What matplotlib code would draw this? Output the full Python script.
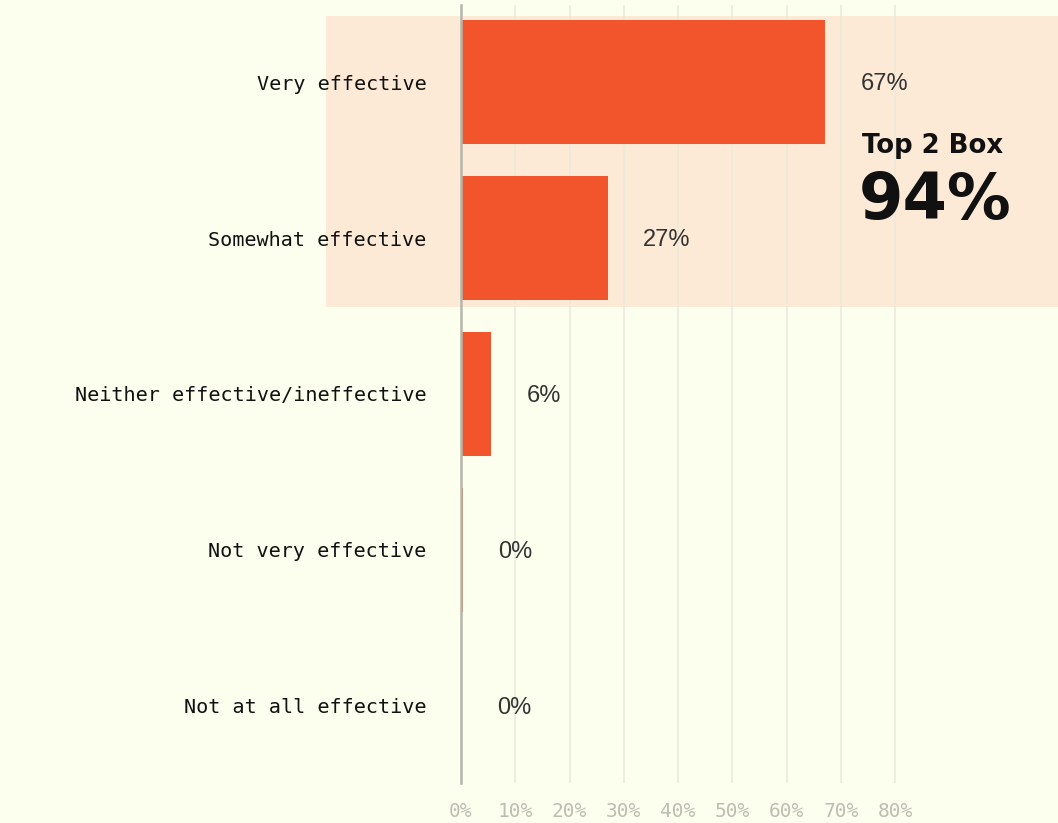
#!/usr/bin/env python3

# effectiveness bar chart, top 2 box highlight

import matplotlib
matplotlib.use("Agg")
import matplotlib.pyplot as plt
from matplotlib.patches import Rectangle

categories = ["Very effective", "Somewhat effective", "Neither effective/ineffective",
              "Not very effective", "Not at all effective"]
values = [67, 27, 5.6, 0.3, 0]
value_labels = ["67%", "27%", "6%", "0%", "0%"]
ticks = [0, 10, 20, 30, 40, 50, 60, 70, 80]
tick_labels = ["0%", "10%", "20%", "30%", "40%", "50%", "60%", "70%", "80%"]
top2_title = "Top 2 Box"
top2_value = "94%"

BG = "#fcfeee"
HILITE = "#fce9d6"
BAR = "#f2552c"


def main():
	fig = plt.figure(figsize=(10.58, 8.23), dpi=100, facecolor=BG)
	ax = fig.add_axes([461 / 1058, 40 / 823, 597 / 1058, 778 / 823])
	ax.set_facecolor(BG)

	y = list(range(len(categories)))
	ax.barh(y, values, height=0.8, color=BAR, zorder=2)

	# peach box behind the top two answers, runs into the label area
	ax.add_patch(Rectangle((-24.9, -0.423), 140, 1.865, facecolor=HILITE,
		edgecolor="none", zorder=0.2, clip_on=False))

	for i, v in enumerate(values):
		ax.text(v + 6.6, i + 0.01, value_labels[i], ha="left", va="center",
			fontsize=17, family="Liberation Sans", fontstretch="normal",
			color="#333333", zorder=3)

	ax.text(86.9, 0.455, top2_title, ha="center", va="baseline", fontsize=18.7,
		family="DejaVu Sans", fontweight="bold", color="#111111", zorder=3)
	ax.text(87.3, 0.878, top2_value, ha="center", va="baseline", fontsize=46,
		family="DejaVu Sans", fontweight="bold", color="#111111", zorder=3)

	ax.set_xlim(0, 110)
	ax.set_ylim(4.494, -0.494)

	ax.set_xticks(ticks)
	ax.set_xticklabels(tick_labels, family="DejaVu Sans Mono", fontsize=14, color="#bdbdb3")
	ax.set_yticks(y)
	ax.set_yticklabels(categories, family="DejaVu Sans Mono", fontsize=14.5, color="#111111")
	ax.tick_params(axis="x", length=0, pad=14)
	ax.tick_params(axis="y", length=0, pad=25)

	ax.set_axisbelow(True)
	ax.grid(axis="x", color="#ebebdc", linewidth=1.2, zorder=0.5)
	ax.grid(axis="y", visible=False)
	for s in ["top", "right", "bottom"]:
		ax.spines[s].set_visible(False)
	ax.spines["left"].set_color("#b5b5ab")
	ax.spines["left"].set_linewidth(1.8)
	ax.spines["left"].set_zorder(4)

	fig.savefig("out.png", dpi=100, facecolor=BG)


if __name__ == "__main__":
	main()
